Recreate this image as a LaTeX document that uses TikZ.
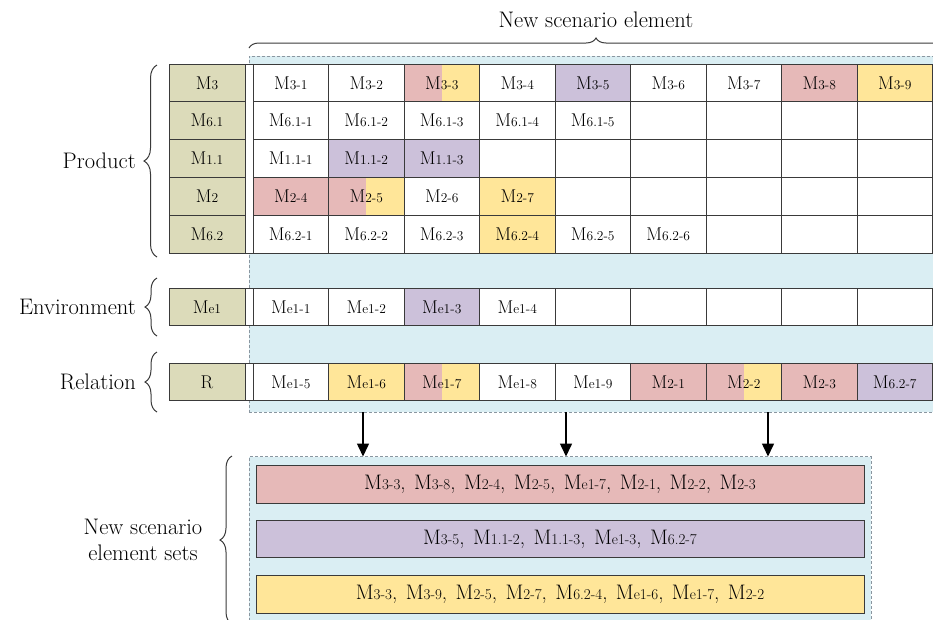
\documentclass[tikz,border=0pt]{standalone}
\usetikzlibrary{arrows.meta,decorations.pathreplacing,calc}
\definecolor{olivec}{HTML}{DCDBBA}
\definecolor{pinkc}{HTML}{E6B9B8}
\definecolor{purpc}{HTML}{CCC1DA}
\definecolor{yelc}{HTML}{FFE699}
\definecolor{bluec}{HTML}{DAEEF3}
\definecolor{dashc}{HTML}{8A96A0}
\definecolor{linec}{HTML}{3A3A3A}
\newcommand\Mc[1]{M{\fontsize{13.5}{15}\selectfont #1}}
\newcommand\Mb[1]{M{\fontsize{15}{17}\selectfont #1}}
\newcommand\sep{,\hspace{8.5pt}}
\tikzset{
  cell/.style={draw=linec, line width=1pt, minimum width=75.5pt, minimum height=37.8pt, inner sep=0pt, outer sep=0pt, font=\fontsize{18.5}{21}\selectfont},
  lab/.style={cell, fill=olivec, minimum width=76pt},
  stripbox/.style={draw=linec, line width=1pt, fill=white, minimum width=8pt, inner sep=0pt, outer sep=0pt},
  plain/.style={fill=white},
  pinkf/.style={fill=pinkc},
  yelf/.style={fill=yelc},
  purpf/.style={fill=purpc},
  split/.style={fill=white, path picture={
     \fill[pinkc] (path picture bounding box.north west) rectangle (path picture bounding box.south);
     \fill[yelc] (path picture bounding box.north) rectangle (path picture bounding box.south east);}},
  region/.style={draw=dashc, line width=0.9pt, dash pattern=on 3pt off 2pt, fill=bluec, inner sep=0pt, outer sep=0pt, anchor=north west},
  bar/.style={draw=linec, line width=1pt, minimum width=608pt, minimum height=37.5pt, inner sep=0pt, font=\fontsize{21}{24}\selectfont},
  bigtext/.style={font=\fontsize{22.5}{26}\selectfont, inner sep=0pt},
  bracedec/.style={draw=linec, line width=1pt, decorate, decoration={brace, amplitude=#1}},
  arr/.style={line width=1.5pt, -{Triangle[width=12pt,length=13pt]}}
}
\begin{document}
\begin{tikzpicture}[x=1pt,y=-1pt]
\useasboundingbox (0,0) rectangle (933,619);
\clip (0,0) rectangle (933,619);

% regions
\node[region, minimum width=700pt, minimum height=356pt] (top) at (249,56) {};
\node[region, minimum width=622pt, minimum height=180pt] (setbox) at (249,456.5) {};

% strips
\node[stripbox, minimum height=189pt] (s1) at (249,158.5) {};
\node[stripbox, minimum height=37.8pt] (s2) at (249,307) {};
\node[stripbox, minimum height=37.8pt] (s3) at (249,382) {};

% label cells
\node[lab] (l1) at (207,82.9) {\Mc{3}};
\node[lab] (l2) at (207,120.7) {\Mc{6.1}};
\node[lab] (l3) at (207,158.5) {\Mc{1.1}};
\node[lab] (l4) at (207,196.3) {\Mc{2}};
\node[lab] (l5) at (207,234.1) {\Mc{6.2}};
\node[lab] (l6) at (207,307) {\Mc{e1}};
\node[lab] (l7) at (207,382) {R};

% grid rows
\foreach \c/\t/\s in {1/{\Mc{3-1}}/plain, 2/{\Mc{3-2}}/plain, 3/{\Mc{3-3}}/split, 4/{\Mc{3-4}}/plain, 5/{\Mc{3-5}}/purpf, 6/{\Mc{3-6}}/plain, 7/{\Mc{3-7}}/plain, 8/{\Mc{3-8}}/pinkf, 9/{\Mc{3-9}}/yelf}
  \node[cell,\s] (ra\c) at ({253+75.5*(\c-0.5)},82.9) {\t};
\foreach \c/\t/\s in {1/{\Mc{6.1-1}}/plain, 2/{\Mc{6.1-2}}/plain, 3/{\Mc{6.1-3}}/plain, 4/{\Mc{6.1-4}}/plain, 5/{\Mc{6.1-5}}/plain, 6/{}/plain, 7/{}/plain, 8/{}/plain, 9/{}/plain}
  \node[cell,\s] (rb\c) at ({253+75.5*(\c-0.5)},120.7) {\t};
\foreach \c/\t/\s in {1/{\Mc{1.1-1}}/plain, 2/{\Mc{1.1-2}}/purpf, 3/{\Mc{1.1-3}}/purpf, 4/{}/plain, 5/{}/plain, 6/{}/plain, 7/{}/plain, 8/{}/plain, 9/{}/plain}
  \node[cell,\s] (rc\c) at ({253+75.5*(\c-0.5)},158.5) {\t};
\foreach \c/\t/\s in {1/{\Mc{2-4}}/pinkf, 2/{\Mc{2-5}}/split, 3/{\Mc{2-6}}/plain, 4/{\Mc{2-7}}/yelf, 5/{}/plain, 6/{}/plain, 7/{}/plain, 8/{}/plain, 9/{}/plain}
  \node[cell,\s] (rd\c) at ({253+75.5*(\c-0.5)},196.3) {\t};
\foreach \c/\t/\s in {1/{\Mc{6.2-1}}/plain, 2/{\Mc{6.2-2}}/plain, 3/{\Mc{6.2-3}}/plain, 4/{\Mc{6.2-4}}/yelf, 5/{\Mc{6.2-5}}/plain, 6/{\Mc{6.2-6}}/plain, 7/{}/plain, 8/{}/plain, 9/{}/plain}
  \node[cell,\s] (re\c) at ({253+75.5*(\c-0.5)},234.1) {\t};
\foreach \c/\t/\s in {1/{\Mc{e1-1}}/plain, 2/{\Mc{e1-2}}/plain, 3/{\Mc{e1-3}}/purpf, 4/{\Mc{e1-4}}/plain, 5/{}/plain, 6/{}/plain, 7/{}/plain, 8/{}/plain, 9/{}/plain}
  \node[cell,\s] (rf\c) at ({253+75.5*(\c-0.5)},307) {\t};
\foreach \c/\t/\s in {1/{\Mc{e1-5}}/plain, 2/{\Mc{e1-6}}/yelf, 3/{\Mc{e1-7}}/split, 4/{\Mc{e1-8}}/plain, 5/{\Mc{e1-9}}/plain, 6/{\Mc{2-1}}/pinkf, 7/{\Mc{2-2}}/split, 8/{\Mc{2-3}}/pinkf, 9/{\Mc{6.2-7}}/purpf}
  \node[cell,\s] (rg\c) at ({253+75.5*(\c-0.5)},382) {\t};

% bars
\node[bar, fill=pinkc] (b1) at (560,484.5) {\Mb{3-3}\sep\Mb{3-8}\sep\Mb{2-4}\sep\Mb{2-5}\sep\Mb{e1-7}\sep\Mb{2-1}\sep\Mb{2-2}\sep\Mb{2-3}};
\node[bar, fill=purpc] (b2) at (560,539) {\Mb{3-5}\sep\Mb{1.1-2}\sep\Mb{1.1-3}\sep\Mb{e1-3}\sep\Mb{6.2-7}};
\node[bar, fill=yelc] (b3) at (560,594.7) {\Mb{3-3}\sep\Mb{3-9}\sep\Mb{2-5}\sep\Mb{2-7}\sep\Mb{6.2-4}\sep\Mb{e1-6}\sep\Mb{e1-7}\sep\Mb{2-2}};

% arrows
\coordinate (a1) at (363,412);
\coordinate (a2) at (566,412);
\coordinate (a3) at (768,412);
\foreach \a in {a1,a2,a3}
  \draw[arr] (\a) -- (\a |- setbox.north);

% braces and labels
\draw[bracedec=10pt] (249,48) -- (943,48);
\node[bigtext] (tl) at (596,20) {New scenario element};
\draw[bracedec=13pt] (157,257) -- (157,65);
\node[bigtext, anchor=east] (pl) at (136,161) {Product};
\draw[bracedec=12pt] (157,336) -- (157,278);
\node[bigtext, anchor=east] (el) at (136,307) {Environment};
\draw[bracedec=12pt] (157,412) -- (157,352);
\node[bigtext, anchor=east] (rl) at (136,382) {Relation};
\draw[bracedec=12pt] (232,624) -- (232,456);
\node[bigtext, align=center] (nl) at (143,540) {New scenario\\element sets};
\end{tikzpicture}
\end{document}
